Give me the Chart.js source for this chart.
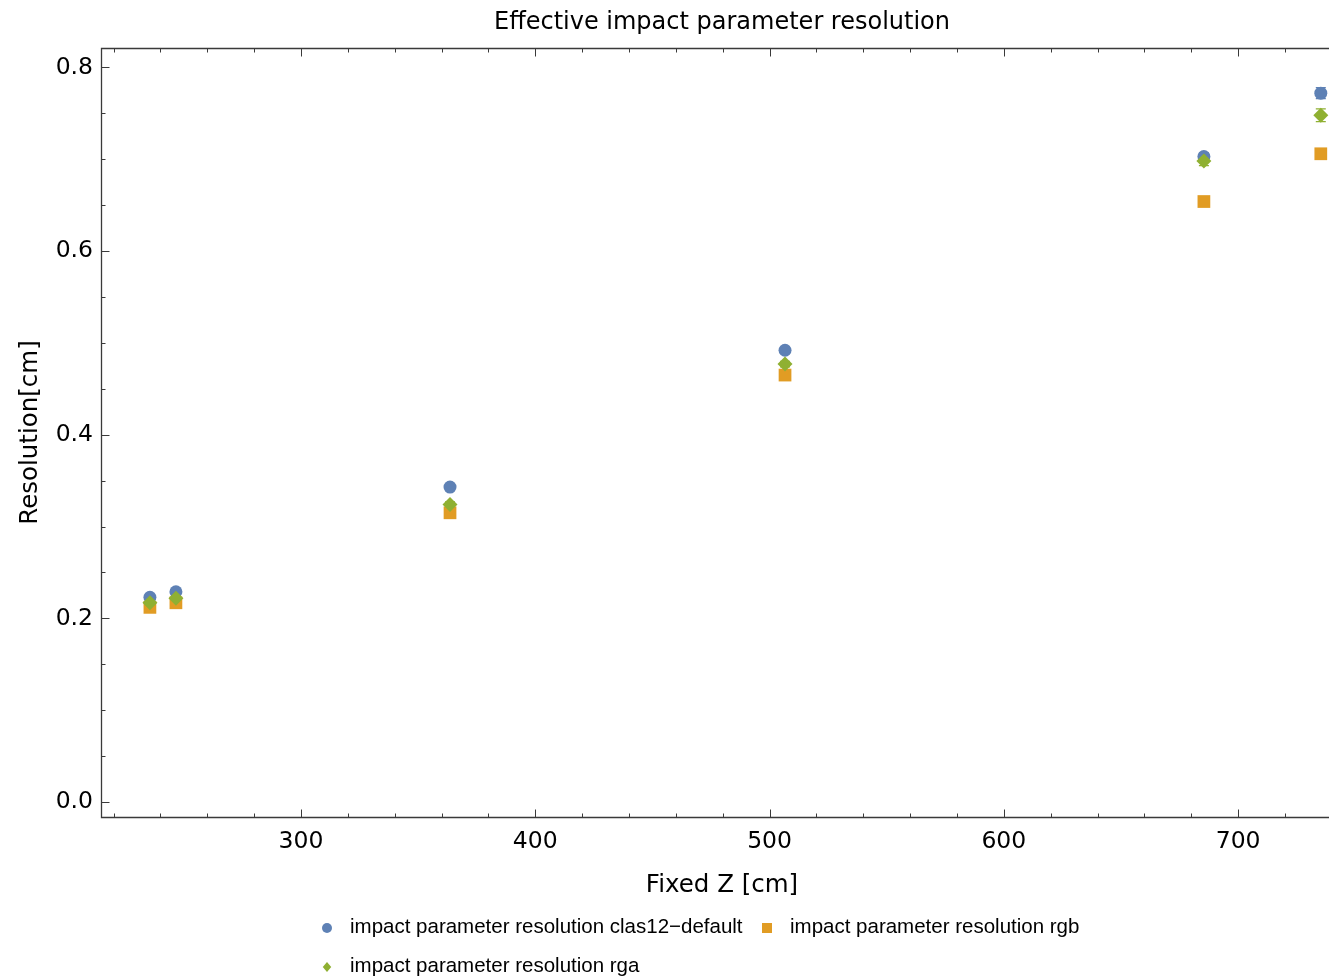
<!DOCTYPE html>
<html>
<head>
<meta charset="utf-8">
<title>Effective impact parameter resolution</title>
<script src="https://cdn.jsdelivr.net/npm/chart.js@4/dist/chart.umd.min.js"></script>
<style>
  html, body { margin: 0; padding: 0; overflow: hidden; background: #ffffff; }
  canvas { display: block; }
</style>
</head>
<body>
<canvas id="chart" width="1329" height="976"></canvas>
<script>
// Fixed Z positions [cm]
const zPositions = [235.5, 246.6, 363.6, 506.6, 685.4, 735.3];

// Effective impact parameter resolution [cm] per configuration
const resClas12Default = [0.223, 0.229, 0.343, 0.492, 0.703, 0.772];
const resRgb           = [0.212, 0.217, 0.315, 0.465, 0.654, 0.706];
const resRga           = [0.217, 0.222, 0.324, 0.477, 0.698, 0.748];

// Statistical uncertainties [cm]
const errClas12Default = [0.002, 0.002, 0.003, 0.003, 0.004, 0.006];
const errRgb           = [0.002, 0.002, 0.002, 0.003, 0.003, 0.004];
const errRga           = [0.002, 0.002, 0.003, 0.003, 0.005, 0.007];

// Axis ticks
const xTickValues = [300, 400, 500, 600, 700];
const yTickValues = [0.0, 0.2, 0.4, 0.6, 0.8];
const xMinorStep = 20;
const yMinorStep = 0.05;

const seriesLabels = [
  'impact parameter resolution clas12\u2212default',
  'impact parameter resolution rgb',
  'impact parameter resolution rga'
];
const seriesColors = ['#5e81b5', '#e19c24', '#8fb032'];

const FONT = '"DejaVu Sans", Verdana, sans-serif';
const LEGEND_FONT = '"Liberation Sans", Arial, Helvetica, sans-serif';
const TEXT = '#000000';
const FRAME = '#3a3a3a';
// horizontal centre of the full plot frame (its right edge runs past the canvas)
const FRAME_CENTER_X = 722;

function toPoints(xs, ys) {
  return xs.map((x, i) => ({ x: x, y: ys[i] }));
}

function drawMarker(ctx, style, x, y, r, color) {
  ctx.save();
  ctx.fillStyle = color;
  ctx.beginPath();
  if (style === 'circle') {
    ctx.arc(x, y, r, 0, Math.PI * 2);
  } else if (style === 'rect') {
    ctx.rect(x - r, y - r, 2 * r, 2 * r);
  } else {
    ctx.moveTo(x, y - r);
    ctx.lineTo(x + r * 0.85, y);
    ctx.lineTo(x, y + r);
    ctx.lineTo(x - r * 0.85, y);
    ctx.closePath();
  }
  ctx.fill();
  ctx.restore();
}

// Error bars with caps, drawn beneath the markers
const errorBarPlugin = {
  id: 'errorBars',
  beforeDatasetsDraw(chart) {
    const ctx = chart.ctx;
    const xs = chart.scales.x, ys = chart.scales.y;
    chart.data.datasets.forEach(ds => {
      const errs = ds.errors || [];
      ctx.save();
      ctx.strokeStyle = ds.backgroundColor;
      ctx.lineWidth = 1.2;
      ds.data.forEach((p, i) => {
        const e = errs[i] || 0;
        const px = xs.getPixelForValue(p.x);
        const y1 = ys.getPixelForValue(p.y - e);
        const y2 = ys.getPixelForValue(p.y + e);
        ctx.beginPath();
        ctx.moveTo(px, y1); ctx.lineTo(px, y2);
        ctx.moveTo(px - 5, y1); ctx.lineTo(px + 5, y1);
        ctx.moveTo(px - 5, y2); ctx.lineTo(px + 5, y2);
        ctx.stroke();
      });
      ctx.restore();
    });
  }
};

// Frame with inward major/minor ticks, titles and legend
const framePlugin = {
  id: 'frameDecor',
  afterDraw(chart) {
    const ctx = chart.ctx;
    const a = chart.chartArea;
    const xs = chart.scales.x, ys = chart.scales.y;
    ctx.save();
    ctx.strokeStyle = FRAME;
    ctx.lineWidth = 1.3;
    const L = Math.round(a.left) + 0.5, R = chart.width + 2;
    const T = Math.round(a.top) + 0.5, B = Math.round(a.bottom) + 0.5;
    ctx.beginPath();
    ctx.moveTo(R, T); ctx.lineTo(L, T); ctx.lineTo(L, B); ctx.lineTo(R, B);
    ctx.stroke();

    ctx.lineWidth = 1;
    ctx.beginPath();
    // x ticks (bottom and top edges)
    const xStart = Math.ceil(xs.min / xMinorStep) * xMinorStep;
    for (let v = xStart; v <= xs.max + 1e-9; v += xMinorStep) {
      const major = xTickValues.some(t => Math.abs(t - v) < 1e-6);
      const len = major ? 8 : 4;
      const px = Math.round(xs.getPixelForValue(v)) + 0.5;
      ctx.moveTo(px, B); ctx.lineTo(px, B - len);
      ctx.moveTo(px, T); ctx.lineTo(px, T + len);
    }
    // y ticks (left edge)
    const yStart = Math.ceil(ys.min / yMinorStep) * yMinorStep;
    for (let v = yStart; v <= ys.max + 1e-9; v += yMinorStep) {
      const major = yTickValues.some(t => Math.abs(t - v) < 1e-6);
      const len = major ? 8 : 4;
      const py = Math.round(ys.getPixelForValue(v)) + 0.5;
      ctx.moveTo(L, py); ctx.lineTo(L + len, py);
    }
    ctx.stroke();

    // plot title and x-axis title
    ctx.fillStyle = TEXT;
    ctx.textAlign = 'center';
    ctx.textBaseline = 'middle';
    ctx.font = '24px ' + FONT;
    ctx.fillText('Effective impact parameter resolution', FRAME_CENTER_X, 23);
    ctx.font = '24.5px ' + FONT;
    ctx.fillText('Fixed Z [cm]', FRAME_CENTER_X, 886);

    // legend
    ctx.font = '20.5px ' + LEGEND_FONT;
    ctx.textAlign = 'left';
    const styles = chart.data.datasets.map(d => d.pointStyle);
    const slots = [
      { i: 0, mx: 327, tx: 350, y: 927 },
      { i: 1, mx: 767, tx: 790, y: 927 },
      { i: 2, mx: 327, tx: 350, y: 966 }
    ];
    slots.forEach(s => {
      drawMarker(ctx, styles[s.i], s.mx, s.y + 1, 5, seriesColors[s.i]);
      ctx.fillStyle = TEXT;
      ctx.fillText(seriesLabels[s.i], s.tx, s.y);
    });
    ctx.restore();
  }
};

new Chart(document.getElementById('chart'), {
  type: 'scatter',
  data: {
    datasets: [
      {
        label: seriesLabels[0],
        data: toPoints(zPositions, resClas12Default),
        errors: errClas12Default,
        pointStyle: 'circle',
        pointRadius: 6.5,
        backgroundColor: seriesColors[0],
        borderWidth: 0,
        clip: false,
        order: 2
      },
      {
        label: seriesLabels[1],
        data: toPoints(zPositions, resRgb),
        errors: errRgb,
        pointStyle: 'rect',
        pointRadius: 9,
        backgroundColor: seriesColors[1],
        borderWidth: 0,
        clip: false,
        order: 1
      },
      {
        label: seriesLabels[2],
        data: toPoints(zPositions, resRga),
        errors: errRga,
        pointStyle: 'rectRot',
        pointRadius: 7.5,
        backgroundColor: seriesColors[2],
        borderWidth: 0,
        clip: false,
        order: 0
      }
    ]
  },
  options: {
    responsive: false,
    animation: false,
    events: [],
    layout: { autoPadding: false, padding: { top: 48, left: 0, right: 0, bottom: 75 } },
    plugins: {
      legend: { display: false },
      title: { display: false },
      tooltip: { enabled: false }
    },
    scales: {
      x: {
        type: 'linear',
        position: 'bottom',
        min: 214.62,
        max: 738.8,
        afterBuildTicks: s => { s.ticks = xTickValues.map(v => ({ value: v })); },
        afterFit: s => { s.height = 84; s.paddingLeft = 0; s.paddingRight = 0; },
        grid: { display: false, drawTicks: false },
        border: { display: false },
        ticks: {
          font: { family: FONT, size: 23.5 },
          color: TEXT,
          padding: 11,
          maxRotation: 0,
          autoSkip: false,
          callback: v => String(v)
        },
        title: { display: false }
      },
      y: {
        type: 'linear',
        position: 'left',
        min: -0.0163,
        max: 0.8212,
        afterBuildTicks: s => { s.ticks = yTickValues.map(v => ({ value: v })); },
        afterFit: s => { s.width = 101; },
        grid: { display: false, drawTicks: false },
        border: { display: false },
        ticks: {
          font: { family: FONT, size: 23.5 },
          color: TEXT,
          padding: 8,
          autoSkip: false,
          callback: v => Number(v).toFixed(1)
        },
        title: {
          display: true,
          text: 'Resolution[cm]',
          font: { family: FONT, size: 24.5 },
          color: TEXT,
          padding: { top: 16, bottom: 0 }
        }
      }
    }
  },
  plugins: [errorBarPlugin, framePlugin]
});
</script>
</body>
</html>
